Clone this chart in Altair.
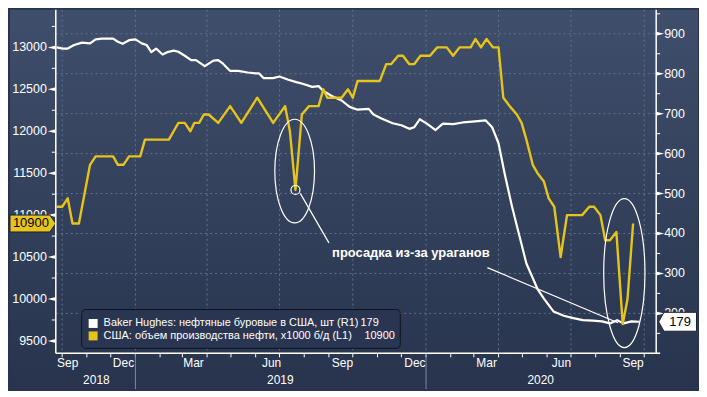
import altair as alt
import pandas as pd

# ---------------- data ----------------
# Baker Hughes: oil rigs in the USA (right axis, R1)
rig_dates = [
    "2018-09-24", "2018-10-02", "2018-10-08", "2018-10-16", "2018-10-26", "2018-11-05",
    "2018-11-12", "2018-11-20", "2018-12-04", "2018-12-10", "2018-12-16", "2018-12-24",
    "2019-01-01", "2019-01-09", "2019-01-15", "2019-01-21", "2019-01-27", "2019-02-04",
    "2019-02-10", "2019-02-18", "2019-02-24", "2019-03-04", "2019-03-12", "2019-03-18",
    "2019-03-24", "2019-03-29", "2019-04-09", "2019-04-15", "2019-04-21", "2019-04-30",
    "2019-05-10", "2019-05-22", "2019-06-01", "2019-06-05", "2019-06-11", "2019-06-23",
    "2019-07-01", "2019-07-12", "2019-07-22", "2019-07-30", "2019-08-11", "2019-08-19",
    "2019-08-25", "2019-09-04", "2019-09-17", "2019-09-27", "2019-10-07", "2019-10-21",
    "2019-10-27", "2019-11-06", "2019-11-20", "2019-12-01", "2019-12-11", "2019-12-17",
    "2019-12-24", "2020-01-02", "2020-01-13", "2020-01-22", "2020-02-04", "2020-02-16",
    "2020-02-28", "2020-03-16", "2020-03-24", "2020-04-01", "2020-04-09", "2020-04-18",
    "2020-04-26", "2020-05-06", "2020-05-20", "2020-05-28", "2020-06-09", "2020-06-22",
    "2020-07-04", "2020-07-16", "2020-07-28", "2020-08-09", "2020-08-19", "2020-08-28",
    "2020-09-05", "2020-09-15", "2020-09-25",
]
rig_values = [
    866, 863, 863, 872, 878, 876,
    886, 888, 888, 880, 875, 884,
    886, 876, 872, 854, 863, 848,
    854, 858, 855, 845, 834, 834,
    826, 819, 833, 834, 825, 807,
    807, 803, 801, 801, 789, 789,
    793, 785, 779, 775, 767, 769,
    757, 745, 733, 717, 710, 712,
    698, 688, 676, 671, 662, 666,
    686, 675, 659, 675, 674, 678,
    680, 683, 666, 626, 547, 467,
    404, 325, 261, 237, 205, 194,
    188, 183, 182, 180, 175, 183,
    175, 180, 179,
]

# USA: crude oil production, x1000 b/d (left axis, L1)
prod_dates = [
    "2018-09-24", "2018-10-01", "2018-10-08", "2018-10-14", "2018-10-22", "2018-10-28",
    "2018-11-05", "2018-11-12", "2018-12-04", "2018-12-10", "2018-12-17", "2018-12-24",
    "2019-01-07", "2019-01-13", "2019-02-12", "2019-02-18", "2019-02-24", "2019-03-04",
    "2019-03-11", "2019-03-16", "2019-03-22", "2019-03-28", "2019-04-03", "2019-04-15",
    "2019-04-30", "2019-05-14", "2019-06-03", "2019-06-23", "2019-07-08", "2019-07-14",
    "2019-07-21", "2019-07-29", "2019-08-07", "2019-08-19", "2019-08-25", "2019-08-30",
    "2019-09-17", "2019-09-25", "2019-10-01", "2019-10-07", "2019-11-04", "2019-11-12",
    "2019-11-18", "2019-11-27", "2019-12-03", "2019-12-11", "2019-12-17", "2019-12-25",
    "2020-01-06", "2020-01-15", "2020-01-27", "2020-02-04", "2020-02-12", "2020-02-26",
    "2020-03-03", "2020-03-10", "2020-03-17", "2020-03-25", "2020-04-01", "2020-04-07",
    "2020-04-15", "2020-04-24", "2020-04-30", "2020-05-06", "2020-05-14", "2020-05-20",
    "2020-05-28", "2020-06-03", "2020-06-10", "2020-06-18", "2020-06-26", "2020-07-15",
    "2020-07-24", "2020-07-30", "2020-08-07", "2020-08-13", "2020-08-19", "2020-08-27",
    "2020-09-04", "2020-09-10", "2020-09-17",
]
prod_values = [
    11100, 11100, 11200, 10900, 10900, 11200,
    11600, 11700, 11700, 11600, 11600, 11700,
    11700, 11900, 11900, 12000, 12100, 12100,
    12000, 12100, 12100, 12200, 12200, 12100,
    12300, 12100, 12400, 12100, 12300, 12000,
    11300, 12200, 12300, 12300, 12500, 12400,
    12400, 12500, 12400, 12600, 12600, 12800,
    12800, 12900, 12900, 12800, 12800, 12900,
    12900, 13000, 13000, 12900, 13000, 13000,
    13100, 13000, 13100, 13000, 13000, 12400,
    12300, 12200, 12100, 11900, 11600, 11500,
    11400, 11200, 11100, 10500, 11000, 11000,
    11100, 11100, 11000, 10700, 10700, 10800,
    9700, 10000, 10900,
]

left_ticks = [9500, 10000, 10500, 11000, 11500, 12000, 12500, 13000]
left_minor = [9750, 10250, 10750, 11250, 11750, 12250, 12750, 13250]
right_ticks = [200, 300, 400, 500, 600, 700, 800, 900]
right_minor = [150, 250, 350, 450, 550, 650, 750, 850, 950]
quarter_starts = ["2018-10-01", "2019-01-01", "2019-04-01", "2019-07-01", "2019-10-01",
                  "2020-01-01", "2020-04-01", "2020-07-01", "2020-10-01"]
month_starts = [d.strftime("%Y-%m-%d") for d in pd.date_range("2018-10-01", "2020-10-01", freq="MS")]
month_label_dates = ["2018-10-08", "2018-12-17", "2019-03-15", "2019-06-21", "2019-09-18",
                     "2019-12-18", "2020-03-17", "2020-06-19", "2020-09-17"]
month_label_text = ["Sep", "Dec", "Mar", "Jun", "Sep", "Dec", "Mar", "Jun", "Sep"]
year_starts = ["2019-01-01", "2020-01-01"]
year_label_dates = ["2018-11-13", "2019-07-02", "2020-05-24"]
year_label_text = ["2018", "2019", "2020"]

legend_labels = ["Baker Hughes: нефтяные буровые в США, шт (R1)",
                 "США: объем производства нефти, x1000 б/д (L1)"]
annotation_text = "просадка из-за ураганов"

# annotation anchors (date, left-axis value)
ellipse1 = ("2019-07-20", 11525)
ellipse2 = ("2020-09-06", 10309)
dip_circle = ("2019-07-21", 11300)
pointer1 = ("2019-07-27", 11259, "2019-09-01", 10669)
pointer2 = ("2020-03-18", 10374, "2020-08-29", 9716)
text_anchor = ("2019-09-05", 10544)

# ---------------- layout / style ----------------
W, H = 603, 345
PAD_L, PAD_R, PAD_B = 46, 42, 36
FONT = "Liberation Sans"
YEL = "#e6c41b"
GRID = "#63738f"
BG_TOP, BG_BOT = "#3f4e6b", "#28344d"

xs = alt.Scale(domain=[alt.DateTime(year=2018, month=9, date=23, utc=True),
                       alt.DateTime(year=2020, month=10, date=16, utc=True)])
ls = alt.Scale(domain=[9352, 13448], nice=False, zero=False)
rs = alt.Scale(domain=[100, 960], nice=False, zero=False)

one = pd.DataFrame({"k": [0]})
prod_df = pd.DataFrame({"d": prod_dates, "v": prod_values})
rig_df = pd.DataFrame({"d": rig_dates, "v": rig_values})


def X(field="d"):
    return alt.X(f"{field}:T", scale=xs, axis=None)


def YL(field="v"):
    return alt.Y(f"{field}:Q", scale=ls, axis=None)


def YR(field="v"):
    return alt.Y(f"{field}:Q", scale=rs, axis=None)


# background gradient over the whole chart
bg = alt.Chart(one).mark_rect(
    color=alt.Gradient(gradient="linear",
                       stops=[alt.GradientStop(color=BG_TOP, offset=0),
                              alt.GradientStop(color=BG_BOT, offset=1)],
                       x1=0, x2=0, y1=0, y2=1)
).encode(x=alt.value(-PAD_L), x2=alt.value(W + PAD_R), y=alt.value(0), y2=alt.value(H + PAD_B))

vgrid = alt.Chart(pd.DataFrame({"d": quarter_starts})).mark_rule(
    color=GRID, strokeWidth=1, strokeDash=[2, 3]
).encode(x=X(), y=alt.value(0), y2=alt.value(H))

# bottom axis pieces
x_domain = alt.Chart(one).mark_rule(color="white", strokeWidth=1.5).encode(
    x=alt.value(0), x2=alt.value(W + 4), y=alt.value(H))
month_ticks = alt.Chart(pd.DataFrame({"d": month_starts})).mark_rule(
    color="white", strokeWidth=1).encode(x=X(), y=alt.value(H), y2=alt.value(H + 4))
month_labels = alt.Chart(pd.DataFrame({"d": month_label_dates, "t": month_label_text})).mark_text(
    color="white", font=FONT, fontSize=12, baseline="middle", align="center"
).encode(x=X(), y=alt.value(H + 10), text="t:N")
year_seps = alt.Chart(pd.DataFrame({"d": year_starts})).mark_rule(
    color="#7b89a3", strokeWidth=1).encode(x=X(), y=alt.value(H + 1), y2=alt.value(H + PAD_B))
year_labels = alt.Chart(pd.DataFrame({"d": year_label_dates, "t": year_label_text})).mark_text(
    color="white", font=FONT, fontSize=12, baseline="middle", align="center"
).encode(x=X(), y=alt.value(H + 27), text="t:N")

left_domain = alt.Chart(one).mark_rule(color="white", strokeWidth=1.5).encode(
    x=alt.value(0), y=alt.value(0), y2=alt.value(H))
right_domain = alt.Chart(one).mark_rule(color="white", strokeWidth=1.5).encode(
    x=alt.value(W), y=alt.value(0), y2=alt.value(H))

TRI_L = "M -1,0 L 1,-0.5 L 1,0.5 Z"
TRI_R = "M 1,0 L -1,-0.5 L -1,0.5 Z"

# ---------- right-axis group (rig count) ----------
rt = pd.DataFrame({"v": right_ticks})
hgrid = alt.Chart(rt).mark_rule(color=GRID, strokeWidth=1, strokeDash=[2, 3]).encode(
    y=YR(), x=alt.value(0), x2=alt.value(W))
r_major = alt.Chart(rt).mark_point(shape=TRI_R, size=64, filled=True, color="white", opacity=1).encode(
    x=alt.value(W + 4), y=YR())
r_minor = alt.Chart(pd.DataFrame({"v": right_minor})).mark_rule(color="white", strokeWidth=1).encode(
    x=alt.value(W), x2=alt.value(W + 4), y=YR())
r_labels = alt.Chart(rt).mark_text(align="left", baseline="middle", color="white", font=FONT,
                                   fontSize=12.5).encode(
    x=alt.value(W + 8), y=YR(), text=alt.Text("v:Q", format="d"))
rig_line = alt.Chart(rig_df).mark_line(color="white", strokeWidth=2.2, strokeJoin="round").encode(
    x=X(), y=YR())
last_rig = pd.DataFrame({"v": [rig_values[-1]]})
TAG_R = "M -1,0 L -0.72,-0.5 L 1,-0.5 L 1,0.5 L -0.72,0.5 Z"
r_tag = alt.Chart(last_rig).mark_point(shape=TAG_R, size=38 ** 2, filled=True, fill="white",
                                       stroke="#1b2233", strokeWidth=1, opacity=1).encode(
    x=alt.value(W + 21.5), y=YR())
r_tag_text = alt.Chart(last_rig).mark_text(color="black", font=FONT, fontSize=13, align="center",
                                           baseline="middle").encode(
    x=alt.value(W + 24), y=YR(), text=alt.Text("v:Q", format="d"))

right_group = alt.layer(hgrid, r_minor, r_major, r_labels, rig_line, r_tag, r_tag_text)

# ---------- left-axis group (production) ----------
lt = pd.DataFrame({"v": left_ticks})
l_major = alt.Chart(lt).mark_point(shape=TRI_L, size=64, filled=True, color="white", opacity=1).encode(
    x=alt.value(-4), y=YL())
l_minor = alt.Chart(pd.DataFrame({"v": left_minor})).mark_rule(color="white", strokeWidth=1).encode(
    x=alt.value(-4), x2=alt.value(0), y=YL())
l_labels = alt.Chart(lt).mark_text(align="right", baseline="middle", color="white", font=FONT,
                                   fontSize=12.5).encode(
    x=alt.value(-9), y=YL(), text=alt.Text("v:Q", format="d"))
prod_line = alt.Chart(prod_df).mark_line(color=YEL, strokeWidth=2.4, strokeJoin="round").encode(
    x=X(), y=YL())


def ellipse_path(ratio):
    return f"M 0,-1 A {ratio},1 0 1,1 0,1 A {ratio},1 0 1,1 0,-1 Z"


sx, sy = W / 619.0, H / 361.0
e1_rx, e1_ry = 20.5 * sx, 54.5 * sy
e2_rx, e2_ry = 21.3 * sx, 78.3 * sy
ell1 = alt.Chart(pd.DataFrame({"d": [ellipse1[0]], "v": [ellipse1[1]]})).mark_point(
    shape=ellipse_path(round(e1_rx / e1_ry, 3)), size=(2 * e1_ry) ** 2, filled=False,
    color="white", strokeWidth=1.2, opacity=1).encode(x=X(), y=YL())
ell2 = alt.Chart(pd.DataFrame({"d": [ellipse2[0]], "v": [ellipse2[1]]})).mark_point(
    shape=ellipse_path(round(e2_rx / e2_ry, 3)), size=(2 * e2_ry) ** 2, filled=False,
    color="white", strokeWidth=1.2, opacity=1).encode(x=X(), y=YL())
circ = alt.Chart(pd.DataFrame({"d": [dip_circle[0]], "v": [dip_circle[1]]})).mark_point(
    shape="circle", size=81, filled=False, color="white", strokeWidth=1.2, opacity=1).encode(
    x=X(), y=YL())
pointers = alt.Chart(pd.DataFrame({
    "d": [pointer1[0], pointer2[0]], "v": [pointer1[1], pointer2[1]],
    "d2": [pointer1[2], pointer2[2]], "v2": [pointer1[3], pointer2[3]],
})).mark_rule(color="white", strokeWidth=1.2).encode(
    x=X(), y=YL(), x2="d2:T", y2="v2:Q")
ann_text = alt.Chart(pd.DataFrame({"d": [text_anchor[0]], "v": [text_anchor[1]],
                                   "t": [annotation_text]})).mark_text(
    color="white", font=FONT, fontSize=13, fontWeight="bold", align="left", baseline="middle"
).encode(x=X(), y=YL(), text="t:N")

last_prod = pd.DataFrame({"v": [prod_values[-1]]})
TAG_L = "M -1,-0.37 L 0.74,-0.37 L 1,0 L 0.74,0.37 L -1,0.37 Z"
l_tag = alt.Chart(last_prod).mark_point(shape=TAG_L, size=46 ** 2, filled=True, fill=YEL,
                                        stroke="#1b2233", strokeWidth=1, opacity=1).encode(
    x=alt.value(-23), y=YL())
l_tag_text = alt.Chart(last_prod).mark_text(color="black", font=FONT, fontSize=13, align="center",
                                            baseline="middle").encode(
    x=alt.value(-25), y=YL(), text=alt.Text("v:Q", format="d"))

left_group = alt.layer(l_minor, l_major, l_labels, prod_line, ell1, ell2, circ, pointers, ann_text,
                       l_tag, l_tag_text)

# ---------- legend ----------
bx, bw, bh = 26, 320, 39
by = H - 5 - bh
leg_box = alt.Chart(one).mark_rect(fill="#2a3651", stroke="#0c1220", strokeWidth=1, cornerRadius=4).encode(
    x=alt.value(bx), x2=alt.value(bx + bw), y=alt.value(by), y2=alt.value(by + bh))
leg_sq1 = alt.Chart(one).mark_square(size=81, color="white", opacity=1).encode(
    x=alt.value(bx + 11.5), y=alt.value(by + 14))
leg_sq2 = alt.Chart(one).mark_square(size=81, color=YEL, opacity=1).encode(
    x=alt.value(bx + 11.5), y=alt.value(by + 26.5))
leg_t1 = alt.Chart(pd.DataFrame({"t": [legend_labels[0]]})).mark_text(
    color="white", font=FONT, fontSize=11, align="left", baseline="middle").encode(
    x=alt.value(bx + 22), y=alt.value(by + 14), text="t:N")
leg_t2 = alt.Chart(pd.DataFrame({"t": [legend_labels[1]]})).mark_text(
    color="white", font=FONT, fontSize=11, align="left", baseline="middle").encode(
    x=alt.value(bx + 22), y=alt.value(by + 26.5), text="t:N")
leg_v1 = alt.Chart(pd.DataFrame({"t": [str(rig_values[-1])]})).mark_text(
    color="white", font=FONT, fontSize=11, align="left", baseline="middle").encode(
    x=alt.value(bx + 280), y=alt.value(by + 14), text="t:N")
leg_v2 = alt.Chart(pd.DataFrame({"t": [str(prod_values[-1])]})).mark_text(
    color="white", font=FONT, fontSize=11, align="left", baseline="middle").encode(
    x=alt.value(bx + 284), y=alt.value(by + 26.5), text="t:N")

chart = alt.layer(
    bg, vgrid, right_group, left_group,
    x_domain, month_ticks, month_labels, year_seps, year_labels, left_domain, right_domain,
    leg_box, leg_sq1, leg_sq2, leg_t1, leg_t2, leg_v1, leg_v2,
).resolve_scale(y="independent").properties(
    width=W, height=H, padding=0, background=BG_BOT
).configure_view(strokeWidth=0)

chart.save("out.html", embed_options={"renderer": "svg", "actions": False})
